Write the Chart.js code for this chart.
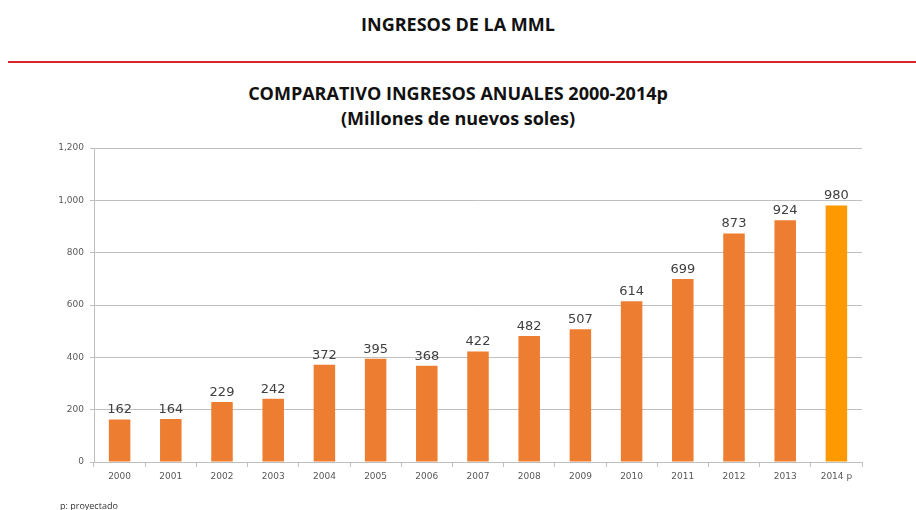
<!DOCTYPE html>
<html>
<head>
<meta charset="utf-8">
<script src="https://cdn.jsdelivr.net/npm/chart.js@4"></script>
<style>
  body { margin: 0; width: 916px; height: 510px; background: #fff; position: relative; overflow: hidden; font-family: "Open Sans", "DejaVu Sans", sans-serif; }
  .cabecera { position: absolute; top: 12px; left: 0; width: 916px; text-align: center; font-weight: bold; font-size: 18px; color: #111; }
  .linea { position: absolute; top: 61px; left: 8px; width: 908px; height: 2px; background: #d9242b; }
  .titulo { position: absolute; top: 81px; left: 0; width: 916px; text-align: center; font-weight: bold; font-size: 18px; color: #111; line-height: 25px; }
  .nota { position: absolute; top: 499px; left: 60px; font-size: 9px; color: #333; }
  #caja { position: absolute; left: 0; top: 130px; width: 916px; height: 380px; }
</style>
</head>
<body>
<div class="cabecera">INGRESOS DE LA MML</div>
<div class="linea"></div>
<div class="titulo">COMPARATIVO INGRESOS ANUALES 2000-2014p<br>(Millones de nuevos soles)</div>
<div id="caja"><canvas id="grafico"></canvas></div>
<div class="nota">p: proyectado</div>
<script>
// ===============================
// Datos
// ===============================
const anios = ["2000", "2001", "2002", "2003", "2004", "2005", "2006", "2007", "2008", "2009", "2010", "2011", "2012", "2013", "2014 p"];
const ingresos = [162, 164, 229, 242, 372, 395, 368, 422, 482, 507, 614, 699, 873, 924, 980];
const ticksY = [0, 200, 400, 600, 800, 1000, 1200];

const colores = anios.map(a => a.includes("p") ? "#FF9900" : "#ED7D31");

// Etiquetas encima de cada barra
const etiquetas = {
    id: "etiquetas",
    afterDatasetsDraw(chart) {
        const c = chart.ctx;
        const meta = chart.getDatasetMeta(0);
        c.save();
        c.font = "13px 'DejaVu Sans', sans-serif";
        c.fillStyle = "#404040";
        c.textAlign = "center";
        c.textBaseline = "bottom";
        meta.data.forEach((bar, i) => {
            c.fillText(ingresos[i], bar.x, bar.y - 3);
        });
        c.restore();
    }
};

new Chart(document.getElementById("grafico"), {
    type: "bar",
    data: {
        labels: anios,
        datasets: [{
            data: ingresos,
            backgroundColor: colores,
            barPercentage: 0.42,
            categoryPercentage: 1
        }]
    },
    options: {
        responsive: true,
        maintainAspectRatio: false,
        animation: false,
        layout: { padding: { top: 18, right: 54, left: 0, bottom: 0 } },
        plugins: {
            legend: { display: false },
            tooltip: { enabled: false }
        },
        scales: {
            x: {
                afterFit(scale) { scale.height = 48; },
                grid: { drawOnChartArea: false, color: "#BFBFBF", tickLength: 5 },
                border: { color: "#BFBFBF" },
                ticks: { color: "#595959", font: { size: 9, family: "'DejaVu Sans', sans-serif" }, padding: 4 }
            },
            y: {
                min: 0,
                max: 1200,
                afterFit(scale) { scale.width = 94; },
                afterBuildTicks(scale) { scale.ticks = ticksY.map(v => ({ value: v })); },
                grid: { color: "#BFBFBF", tickLength: 4 },
                border: { color: "#BFBFBF" },
                ticks: {
                    color: "#595959",
                    font: { size: 9, family: "'DejaVu Sans', sans-serif" },
                    padding: 6,
                    callback: v => v.toLocaleString("en-US")
                }
            }
        }
    },
    plugins: [etiquetas]
});
</script>
</body>
</html>
